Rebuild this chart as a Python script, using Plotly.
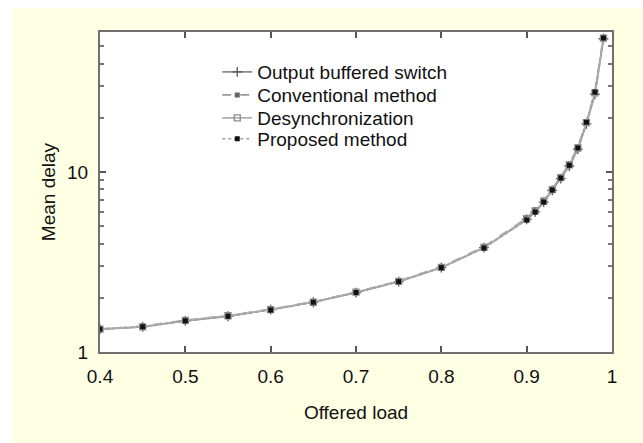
import plotly.graph_objects as go

# ---- data ----
offered_load = [0.40, 0.45, 0.50, 0.55, 0.60, 0.65, 0.70, 0.75, 0.80, 0.85,
                0.90, 0.91, 0.92, 0.93, 0.94, 0.95, 0.96, 0.97, 0.98, 0.99]

output_buffered = [1.34, 1.38, 1.49, 1.58, 1.72, 1.89, 2.14, 2.46, 2.94, 3.80,
                   5.45, 6.00, 6.80, 7.90, 9.20, 10.8, 13.4, 18.5, 27.0, 55.0]
conventional = [1.34, 1.39, 1.50, 1.59, 1.73, 1.90, 2.15, 2.48, 2.97, 3.84,
                5.55, 6.15, 6.95, 8.05, 9.40, 11.1, 13.8, 19.0, 28.0, 56.0]
desynchronization = [1.34, 1.38, 1.50, 1.59, 1.72, 1.89, 2.15, 2.47, 2.95, 3.81,
                     5.50, 6.08, 6.88, 7.98, 9.30, 10.95, 13.6, 18.8, 27.5, 55.5]
proposed = [1.34, 1.38, 1.49, 1.58, 1.71, 1.89, 2.14, 2.46, 2.94, 3.78,
            5.41, 5.99, 6.81, 7.94, 9.26, 10.9, 13.6, 18.9, 27.8, 55.5]

series_names = ["Output buffered switch", "Conventional method",
                "Desynchronization", "Proposed method"]

x_tick_vals = [0.4, 0.5, 0.6, 0.7, 0.8, 0.9, 1.0]
x_tick_text = ["0.4", "0.5", "0.6", "0.7", "0.8", "0.9", "1"]
y_tick_vals = [1, 10]
y_tick_text = ["1", "10"]
y_minor_vals = [2, 3, 4, 5, 6, 7, 8, 9, 20, 30, 40, 50]

FONT = "Liberation Sans, Arial, sans-serif"
FS = 19

styles = [
    dict(line=dict(color="#8c8c8c", width=1.8, dash="solid"),
         marker=dict(symbol="cross-thin", size=7, line=dict(width=1.3, color="#555555"), color="#555555")),
    dict(line=dict(color="#9a9a9a", width=1.8, dash="dash"),
         marker=dict(symbol="square", size=5, color="#666666")),
    dict(line=dict(color="#b0b0b0", width=1.8, dash="solid"),
         marker=dict(symbol="square-open", size=6, color="#8a8a8a", line=dict(width=1.3))),
    dict(line=dict(color="#a0a0a0", width=1.5, dash="dot"),
         marker=dict(symbol="square", size=5, color="#111111")),
]

data_series = [output_buffered, conventional, desynchronization, proposed]
legend_ids = ["legend", "legend2", "legend3", "legend4"]
legend_rows_y = [0.875, 0.803, 0.731, 0.666]   # legend row positions (paper coords)

fig = go.Figure()
for name, ys, st, lid in zip(series_names, data_series, styles, legend_ids):
    fig.add_trace(go.Scatter(
        x=offered_load, y=ys, name=name, mode="lines+markers",
        line=st["line"], marker=st["marker"], legend=lid,
    ))

axis_common = dict(
    showline=True, linecolor="#707070", linewidth=2, mirror="ticks",
    ticks="inside", ticklen=6, tickcolor="#555555", tickwidth=1.5,
    showgrid=False, zeroline=False,
    tickfont=dict(family=FONT, size=FS, color="#111111"),
)

fig.update_xaxes(
    range=[0.4, 1.0], tickmode="array", tickvals=x_tick_vals, ticktext=x_tick_text,
    ticklabelstandoff=6,
    title=dict(text="Offered load", font=dict(family=FONT, size=FS, color="#111111"), standoff=20),
    **axis_common,
)
fig.update_yaxes(
    type="log", range=[0, 1.778], tickmode="array", tickvals=y_tick_vals, ticktext=y_tick_text,
    ticklabelstandoff=6,
    minor=dict(tickmode="array", tickvals=y_minor_vals, ticks="inside", ticklen=4,
               tickcolor="#777777", showgrid=False),
    title=dict(text="Mean delay", font=dict(family=FONT, size=FS, color="#111111"), standoff=6),
    **axis_common,
)

# white strips at the left and top edges of the picture
fig.add_shape(type="rect", xref="paper", yref="paper", xsizemode="pixel", ysizemode="pixel",
              xanchor=0, yanchor=0, x0=-100, x1=-87, y0=-100, y1=420,
              fillcolor="white", line=dict(width=0), layer="below")
fig.add_shape(type="rect", xref="paper", yref="paper", xsizemode="pixel", ysizemode="pixel",
              xanchor=0, yanchor=1, x0=-100, x1=560, y0=24, y1=40,
              fillcolor="white", line=dict(width=0), layer="below")

legend_style = dict(xanchor="left", yanchor="middle", bgcolor="rgba(0,0,0,0)", borderwidth=0,
                    font=dict(family=FONT, size=FS, color="#111111"))

fig.update_layout(
    width=643, height=443,
    margin=dict(l=100, r=31, t=32, b=91),
    paper_bgcolor="#FFFFE4",
    plot_bgcolor="white",
    font=dict(family=FONT, size=FS, color="#111111"),
    showlegend=True,
    legend=dict(x=0.229, y=legend_rows_y[0], **legend_style),
    legend2=dict(x=0.229, y=legend_rows_y[1], **legend_style),
    legend3=dict(x=0.229, y=legend_rows_y[2], **legend_style),
    legend4=dict(x=0.229, y=legend_rows_y[3], **legend_style),
)

fig.write_html("out.html")
